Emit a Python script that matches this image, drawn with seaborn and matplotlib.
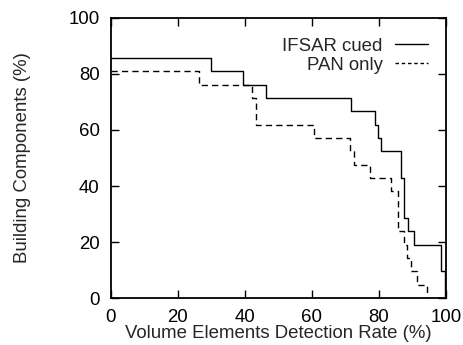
import numpy as np
import pandas as pd
import seaborn as sns
import matplotlib.pyplot as plt

# step curves (breakpoints in % detection rate, share of building components in %)
ifsar_x = [0, 30.0, 39.4, 46.3, 71.6, 78.7, 79.7, 80.6, 86.6, 87.6, 88.8, 90.6, 98.5, 99.6]
ifsar_y = [85.7, 81.0, 76.2, 71.4, 66.7, 61.9, 57.1, 52.4, 42.9, 28.6, 23.8, 19.0, 9.5, 0.0]

pan_x = [0, 26.3, 42.3, 43.3, 60.5, 71.5, 72.5, 77.5, 83.5, 85.8, 87.6, 88.5, 89.5, 91.5, 94.5]
pan_y = [81.0, 76.2, 71.4, 61.9, 57.1, 52.4, 47.6, 42.9, 38.1, 23.8, 19.0, 14.3, 9.5, 4.8, 0.0]

x_ticks = [0, 20, 40, 60, 80, 100]
y_ticks = [0, 20, 40, 60, 80, 100]

sns.set_theme(style='ticks')
plt.rcParams['font.family'] = ['Liberation Sans', 'DejaVu Sans']
fs = 13.4

ifsar = pd.DataFrame({'x': ifsar_x + [100], 'y': ifsar_y + [ifsar_y[-1]]})
pan = pd.DataFrame({'x': pan_x + [100], 'y': pan_y + [pan_y[-1]]})

fig = plt.figure(figsize=(4.64, 3.45), dpi=100)
ax = fig.add_axes([0.2386, 0.136, 0.7224, 0.812])

sns.lineplot(data=ifsar, x='x', y='y', drawstyle='steps-post', color='black',
             linewidth=1.0, label='IFSAR cued', ax=ax)
sns.lineplot(data=pan, x='x', y='y', drawstyle='steps-post', color='black',
             linewidth=1.0, dashes=False, label='PAN only', ax=ax)
ax.lines[1].set_dashes([4.5, 3])

ax.set_xlim(0, 100)
ax.set_ylim(0, 100)
ax.set_xticks(x_ticks)
ax.set_yticks(y_ticks)
ax.tick_params(direction='in', length=6, width=1, labelsize=fs,
               top=True, right=True, pad=8, colors='black')
for s in ax.spines.values():
    s.set_visible(True)
    s.set_linewidth(1.3)
    s.set_color('black')

ax.set_xlabel('Volume Elements Detection Rate (%)', fontsize=fs, labelpad=-1)
ax.set_ylabel('Building Components (%)', fontsize=fs, labelpad=27)

leg = ax.legend(loc='upper right', bbox_to_anchor=(0.946, 0.93), frameon=False,
                markerfirst=False, fontsize=fs, handlelength=1.78,
                handletextpad=0.65, labelspacing=0.12, borderpad=0, borderaxespad=0)
leg.get_lines()[1].set_dashes([2.5, 2])

fig.savefig('out.png', dpi=100)
